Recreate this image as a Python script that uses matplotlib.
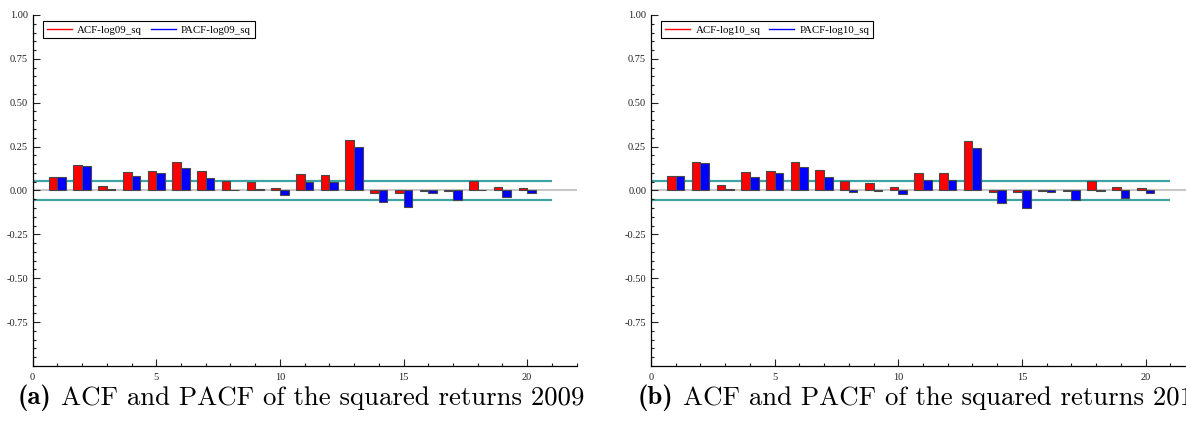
import matplotlib
matplotlib.use("Agg")
import matplotlib.pyplot as plt
from matplotlib.ticker import MultipleLocator, FixedLocator, FormatStrFormatter
import numpy as np

plt.rcParams["axes.unicode_minus"] = False

lags = list(range(1, 21))

acf_09 = [0.079, 0.146, 0.027, 0.104, 0.112, 0.160, 0.112, 0.054, 0.046, 0.015,
          0.092, 0.087, 0.285, -0.012, -0.012, -0.004, -0.002, 0.056, 0.021, 0.013]
pacf_09 = [0.079, 0.140, 0.008, 0.083, 0.098, 0.127, 0.071, 0.003, 0.008, -0.027,
           0.050, 0.050, 0.248, -0.068, -0.093, -0.014, -0.056, 0.003, -0.040, -0.014]

acf_10 = [0.085, 0.160, 0.030, 0.104, 0.110, 0.165, 0.116, 0.054, 0.042, 0.021,
          0.098, 0.098, 0.281, -0.008, -0.010, -0.004, -0.002, 0.056, 0.019, 0.012]
pacf_10 = [0.085, 0.154, 0.008, 0.079, 0.098, 0.133, 0.075, -0.008, -0.002, -0.020,
           0.058, 0.058, 0.243, -0.072, -0.098, -0.008, -0.056, -0.004, -0.045, -0.016]

conf_band = 0.056
yticks = [-0.75, -0.5, -0.25, 0.0, 0.25, 0.5, 0.75, 1.0]
xticks = [0, 5, 10, 15, 20]

tick_font = "Liberation Serif"


def draw_panel(ax, acf, pacf, tag):
    x = np.array(lags)
    w = 0.35
    ax.axhline(0, color="#c8c8c8", lw=1.5, zorder=1)
    ax.hlines([conf_band, -conf_band], 0, 21, color="#3fa3a3", lw=1.6, zorder=1)
    ax.bar(x - w / 2, acf, width=w, color="#ff0000", edgecolor="#484848",
           lw=0.8, zorder=2)
    ax.bar(x + w / 2, pacf, width=w, color="#0000ff", edgecolor="#484848",
           lw=0.8, zorder=2)
    # legend proxies: plain lines
    ax.plot([], [], color="#ff0000", lw=1, label="ACF-" + tag)
    ax.plot([], [], color="#0000ff", lw=1, label="PACF-" + tag)
    leg = ax.legend(loc="upper left", ncol=2, fancybox=False, framealpha=1,
                    edgecolor="black", prop={"family": tick_font, "size": 7.8},
                    handlelength=2.3, borderaxespad=0.0, borderpad=0.35,
                    columnspacing=0.8, handletextpad=0.5,
                    bbox_to_anchor=(0.019, 0.982))
    leg.get_frame().set_linewidth(0.8)

    ax.set_xlim(0, 22)
    ax.set_ylim(-1.0, 1.0)
    ax.spines["top"].set_visible(False)
    ax.spines["right"].set_visible(False)
    ax.spines["left"].set_linewidth(0.9)
    ax.spines["bottom"].set_linewidth(0.9)
    ax.xaxis.set_major_locator(FixedLocator(xticks))
    ax.xaxis.set_minor_locator(MultipleLocator(1))
    ax.yaxis.set_major_locator(FixedLocator(yticks))
    ax.yaxis.set_major_formatter(FormatStrFormatter("%.2f"))
    ax.yaxis.set_minor_locator(MultipleLocator(0.05))
    ax.tick_params(which="both", direction="in", labelsize=7.5, width=0.8,
                   colors="#222222")
    ax.tick_params(axis="x", pad=5)
    ax.tick_params(which="major", length=5)
    ax.tick_params(which="minor", length=2.5)
    for lab in ax.get_xticklabels() + ax.get_yticklabels():
        lab.set_family(tick_font)


fig = plt.figure(figsize=(11.86, 4.28), dpi=100)
ax1 = fig.add_axes([0.0275, 0.145, 0.4587, 0.82])
ax2 = fig.add_axes([0.5489, 0.145, 0.4587, 0.82])

draw_panel(ax1, acf_09, pacf_09, "log09_sq")
draw_panel(ax2, acf_10, pacf_10, "log10_sq")

# sub-captions: bold tag followed by roman text
renderer = fig.canvas.get_renderer()
cap_size = 19.3
captions = [(0.015, "(a)", "ACF and PACF of the squared returns 2009"),
            (0.538, "(b)", "ACF and PACF of the squared returns 2010")]
for x0, tag, text in captions:
    t = fig.text(x0, 0.07, tag, family="cmb10", fontsize=cap_size, va="center")
    bb = t.get_window_extent(renderer)
    x1 = (bb.x1 + 9) / fig.bbox.width
    fig.text(x1, 0.07, text, family="cmr10", fontsize=cap_size, va="center")

fig.savefig("out.png", dpi=100)
